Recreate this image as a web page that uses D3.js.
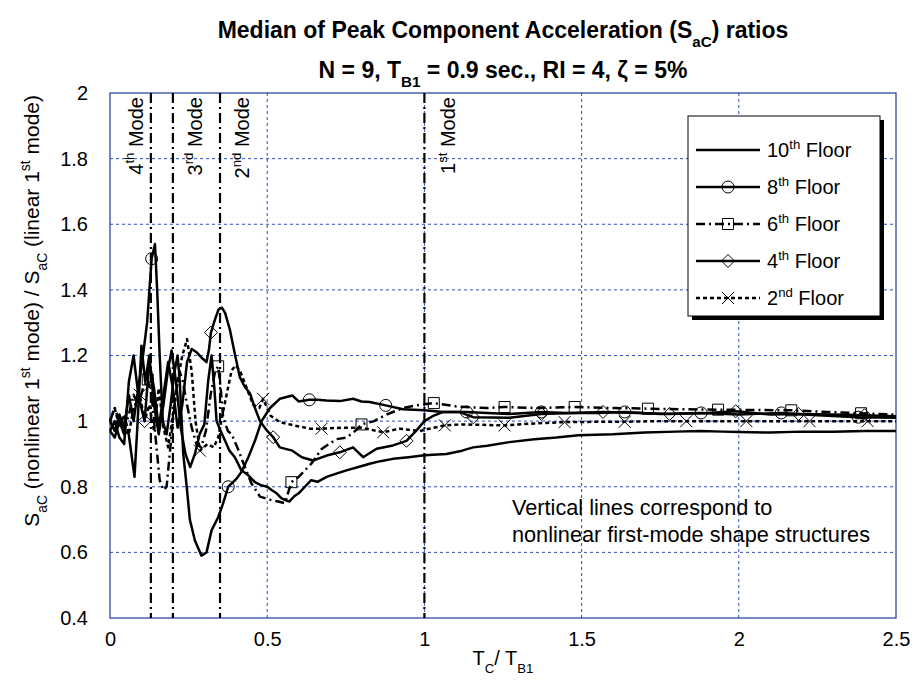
<!DOCTYPE html>
<html>
<head>
<meta charset="utf-8">
<script src="https://cdn.jsdelivr.net/npm/d3@7"></script>
<style>
  body { margin: 0; background: #fff; }
  text { font-family: "Liberation Sans", Arial, sans-serif; fill: #000; }
</style>
</head>
<body>
<div id="chart"></div>
<script>
// Tick values
const xTicks = [0, 0.5, 1, 1.5, 2, 2.5];
const yTicks = [0.4, 0.6, 0.8, 1, 1.2, 1.4, 1.6, 1.8, 2];

// Modal period ratios (vertical lines)
const modePeriods = [0.13, 0.2, 0.35, 1.0];
const modeNumbers = ["4", "3", "2", "1"];
const modeSuffixes = ["th", "rd", "nd", "st"];

// Floors (legend order)
const floorNumbers = ["10", "8", "6", "4", "2"];
const floorSuffixes = ["th", "th", "th", "th", "nd"];

// Series values [Tc/TB1, ratio]
const floor10 = [[0,0.97],[0.015,0.95],[0.03,1.0],[0.045,0.96],[0.058,0.97],[0.068,0.9],[0.078,0.83],[0.088,1.0],[0.1,1.23],[0.112,1.12],[0.125,1.2],[0.14,1.05],[0.155,0.96],[0.17,1.05],[0.185,1.16],[0.196,1.215],[0.21,1.12],[0.225,0.98],[0.24,0.9],[0.255,0.86],[0.27,0.9],[0.285,0.96],[0.3,0.99],[0.312,1.12],[0.323,1.2],[0.332,1.1],[0.339,1.0],[0.352,0.97],[0.366,0.94],[0.38,0.91],[0.397,0.89],[0.418,0.85],[0.44,0.835],[0.461,0.814],[0.48,0.805],[0.5,0.8],[0.514,0.79],[0.53,0.78],[0.545,0.765],[0.556,0.76],[0.57,0.755],[0.585,0.77],[0.6,0.78],[0.62,0.8],[0.64,0.82],[0.66,0.815],[0.689,0.83],[0.72,0.84],[0.752,0.85],[0.79,0.86],[0.826,0.87],[0.86,0.878],[0.9,0.885],[0.95,0.89],[1.0,0.896],[1.07,0.9],[1.12,0.91],[1.155,0.92],[1.2,0.925],[1.27,0.936],[1.35,0.945],[1.42,0.95],[1.49,0.957],[1.6,0.96],[1.7,0.965],[1.8,0.968],[1.875,0.97],[1.95,0.968],[2.0,0.967],[2.1,0.965],[2.2,0.968],[2.3,0.968],[2.4,0.97],[2.5,0.97]];
const floor8 = [[0,1.0],[0.015,0.97],[0.03,1.02],[0.045,0.98],[0.06,1.08],[0.075,1.0],[0.09,1.1],[0.105,1.2],[0.118,1.3],[0.1325,1.495],[0.143,1.54],[0.15,1.4],[0.158,1.2],[0.168,1.0],[0.18,0.96],[0.193,1.05],[0.205,1.15],[0.215,1.2],[0.222,1.12],[0.228,1.0],[0.233,0.9],[0.244,0.8],[0.254,0.7],[0.27,0.636],[0.291,0.59],[0.307,0.6],[0.323,0.667],[0.344,0.707],[0.36,0.75],[0.376,0.8],[0.402,0.824],[0.418,0.845],[0.44,0.89],[0.461,0.94],[0.482,1.0],[0.509,1.04],[0.54,1.068],[0.58,1.078],[0.6,1.06],[0.634,1.065],[0.66,1.065],[0.689,1.063],[0.731,1.061],[0.773,1.068],[0.8,1.06],[0.826,1.058],[0.877,1.048],[0.932,1.036],[1.0,1.033],[1.06,1.028],[1.134,1.028],[1.2,1.025],[1.27,1.022],[1.372,1.028],[1.45,1.025],[1.55,1.025],[1.637,1.028],[1.75,1.022],[1.88,1.025],[2.0,1.02],[2.135,1.025],[2.25,1.018],[2.38,1.012],[2.5,1.01]];
const floor6 = [[0,1.0],[0.015,1.04],[0.03,1.0],[0.045,0.97],[0.06,1.02],[0.075,1.08],[0.09,1.05],[0.105,1.1],[0.12,1.127],[0.132,1.08],[0.145,0.95],[0.158,0.82],[0.17,0.79],[0.18,0.8],[0.19,0.9],[0.2,1.0],[0.212,1.1],[0.222,1.15],[0.232,1.12],[0.245,1.05],[0.26,0.98],[0.275,0.93],[0.29,0.92],[0.305,0.97],[0.32,1.08],[0.334,1.15],[0.344,1.167],[0.352,1.1],[0.36,1.01],[0.375,0.97],[0.387,0.96],[0.405,0.92],[0.425,0.87],[0.45,0.81],[0.477,0.77],[0.51,0.76],[0.535,0.755],[0.556,0.75],[0.577,0.814],[0.6,0.83],[0.62,0.85],[0.64,0.87],[0.673,0.915],[0.72,0.945],[0.752,0.95],[0.78,0.97],[0.8,0.99],[0.84,1.0],[0.879,1.02],[0.932,1.04],[0.975,1.048],[1.03,1.055],[1.1,1.045],[1.15,1.042],[1.2,1.04],[1.255,1.043],[1.35,1.04],[1.478,1.043],[1.6,1.04],[1.711,1.038],[1.82,1.036],[1.934,1.035],[2.05,1.034],[2.167,1.033],[2.28,1.028],[2.389,1.024],[2.5,1.02]];
const floor4 = [[0,0.97],[0.015,1.0],[0.03,0.95],[0.045,0.93],[0.06,1.12],[0.075,1.2],[0.09,1.08],[0.11,1.0],[0.125,1.18],[0.14,1.1],[0.155,0.98],[0.17,1.08],[0.185,1.18],[0.2,1.1],[0.215,0.98],[0.23,1.05],[0.245,1.18],[0.26,1.22],[0.275,1.21],[0.295,1.19],[0.307,1.18],[0.315,1.22],[0.321,1.27],[0.334,1.31],[0.345,1.34],[0.356,1.346],[0.366,1.33],[0.381,1.28],[0.397,1.205],[0.413,1.134],[0.429,1.104],[0.445,1.085],[0.461,1.04],[0.477,1.0],[0.5,0.97],[0.519,0.951],[0.54,0.92],[0.58,0.91],[0.61,0.89],[0.646,0.88],[0.689,0.895],[0.731,0.905],[0.773,0.92],[0.805,0.89],[0.848,0.916],[0.9,0.926],[0.943,0.94],[0.975,0.972],[1.0,1.0],[1.03,1.017],[1.06,1.028],[1.11,1.028],[1.155,1.012],[1.27,1.01],[1.372,1.022],[1.47,1.025],[1.568,1.028],[1.68,1.025],[1.78,1.022],[1.9,1.025],[1.99,1.03],[2.1,1.02],[2.19,1.022],[2.3,1.02],[2.4,1.018],[2.5,1.015]];
const floor2 = [[0,1.0],[0.015,1.04],[0.03,0.98],[0.045,1.02],[0.06,0.96],[0.075,1.04],[0.095,1.08],[0.11,1.0],[0.125,1.05],[0.14,0.97],[0.155,1.1],[0.17,0.98],[0.185,0.92],[0.2,1.02],[0.215,1.12],[0.23,1.2],[0.245,1.25],[0.26,1.15],[0.272,1.0],[0.286,0.91],[0.31,0.93],[0.33,0.92],[0.344,0.95],[0.36,1.03],[0.375,1.1],[0.387,1.155],[0.4,1.17],[0.415,1.15],[0.435,1.1],[0.455,1.05],[0.475,1.04],[0.487,1.068],[0.51,1.017],[0.54,0.997],[0.58,0.988],[0.636,0.977],[0.673,0.977],[0.742,0.98],[0.8,0.98],[0.869,0.966],[0.92,0.977],[0.985,0.97],[1.03,0.98],[1.065,0.987],[1.12,0.99],[1.255,0.987],[1.35,0.993],[1.446,0.997],[1.55,0.998],[1.637,0.998],[1.75,1.0],[1.833,1.0],[1.93,1.0],[2.024,1.0],[2.12,1.0],[2.225,1.0],[2.32,1.0],[2.41,1.0],[2.5,1.0]];

// x positions of the plotted markers
const floor8Marks = [0.1325, 0.376, 0.634, 0.877, 1.134, 1.372, 1.637, 1.88, 2.135, 2.38];
const floor6Marks = [0.12, 0.344, 0.577, 0.8, 1.03, 1.255, 1.478, 1.711, 1.934, 2.167, 2.389];
const floor4Marks = [0.11, 0.321, 0.519, 0.731, 0.943, 1.155, 1.372, 1.568, 1.78, 1.99, 2.19, 2.4];
const floor2Marks = [0.095, 0.286, 0.487, 0.673, 0.869, 1.065, 1.255, 1.446, 1.637, 1.833, 2.024, 2.225, 2.41];

// Set dimensions
const W = 914, H = 681;
const plot = {left: 110, top: 93, right: 896, bottom: 618};

const svg = d3.select("#chart").append("svg")
  .attr("width", W).attr("height", H)
  .attr("viewBox", `0 0 ${W} ${H}`);

const x = d3.scaleLinear().domain([0, 2.5]).range([plot.left, plot.right]);
const y = d3.scaleLinear().domain([0.4, 2]).range([plot.bottom, plot.top]);

// text with sub/superscripts
function rich(sel, parts, fs) {
  let shift = 0;
  parts.forEach(([s, kind]) => {
    const target = kind === "sub" ? 0.38 * fs : kind === "sup" ? -0.42 * fs : 0;
    sel.append("tspan")
      .attr("dy", target - shift)
      .style("font-size", kind ? (0.66 * fs) + "px" : fs + "px")
      .text(s);
    shift = target;
  });
  return sel;
}

const gridColor = "#2f4fb8";

// Grid lines
svg.append("g")
  .selectAll("line")
  .data(yTicks.slice(1, -1))
  .join("line")
  .attr("x1", plot.left).attr("x2", plot.right)
  .attr("y1", d => y(d)).attr("y2", d => y(d))
  .attr("stroke", gridColor).attr("stroke-width", 1)
  .attr("stroke-dasharray", "3,3");

svg.append("g")
  .selectAll("line")
  .data(xTicks.slice(1, -1))
  .join("line")
  .attr("y1", plot.top).attr("y2", plot.bottom)
  .attr("x1", d => x(d)).attr("x2", d => x(d))
  .attr("stroke", gridColor).attr("stroke-width", 1)
  .attr("stroke-dasharray", "3,3");

// Axes (labels only)
svg.append("g")
  .attr("transform", `translate(0,${plot.bottom})`)
  .call(d3.axisBottom(x).tickValues(xTicks).tickSize(0).tickPadding(14).tickFormat(d => String(d)))
  .call(g => g.select(".domain").remove())
  .selectAll("text")
  .style("font-size", "20px")
  .style("font-family", "Liberation Sans, Arial, sans-serif");

svg.append("g")
  .attr("transform", `translate(${plot.left},0)`)
  .call(d3.axisLeft(y).tickValues(yTicks).tickSize(0).tickPadding(22).tickFormat(d => String(d)))
  .call(g => g.select(".domain").remove())
  .selectAll("text")
  .style("font-size", "20px")
  .style("font-family", "Liberation Sans, Arial, sans-serif");

// Plot border
svg.append("rect")
  .attr("x", plot.left).attr("y", plot.top)
  .attr("width", plot.right - plot.left).attr("height", plot.bottom - plot.top)
  .attr("fill", "none").attr("stroke", "#1d3a9c").attr("stroke-width", 1.2);

// Mode lines
svg.append("g")
  .selectAll("line")
  .data(modePeriods)
  .join("line")
  .attr("x1", d => x(d)).attr("x2", d => x(d))
  .attr("y1", plot.top).attr("y2", plot.bottom)
  .attr("stroke", "#000").attr("stroke-width", 2.2)
  .attr("stroke-dasharray", "10,4,2,4");

// Mode labels: 4th sits left of its line, others right
const modeLabelOffset = [-8, 29, 29, 31];
modePeriods.forEach((p, i) => {
  const t = svg.append("text")
    .attr("transform", `translate(${x(p) + modeLabelOffset[i]},${plot.top + 4}) rotate(-90)`)
    .attr("text-anchor", "end");
  rich(t, [[modeNumbers[i], ""], [modeSuffixes[i], "sup"], [" Mode", ""]], 20);
});

// Series
const series = [
  {data: floor10, marks: [], dash: null, marker: null},
  {data: floor8, marks: floor8Marks, dash: null, marker: "circle"},
  {data: floor6, marks: floor6Marks, dash: "9,4,2,4", marker: "square"},
  {data: floor4, marks: floor4Marks, dash: null, marker: "diamond"},
  {data: floor2, marks: floor2Marks, dash: "4,3", marker: "x"},
];

function markerPath(type) {
  if (type === "circle") return d3.arc()({innerRadius: 0, outerRadius: 6, startAngle: 0, endAngle: 2 * Math.PI});
  if (type === "square") return "M-5.5,-5.5H5.5V5.5H-5.5Z";
  if (type === "diamond") return "M0,-6.5L6.5,0L0,6.5L-6.5,0Z";
  if (type === "x") return "M-6,-6L6,6M-6,6L6,-6";
  return "";
}

const line = d3.line().x(d => x(d[0])).y(d => y(d[1]));

series.forEach(s => {
  svg.append("path")
    .datum(s.data)
    .attr("fill", "none")
    .attr("stroke", "#000")
    .attr("stroke-width", 2.5)
    .attr("stroke-linejoin", "round")
    .attr("stroke-dasharray", s.dash)
    .attr("d", line);

  const pts = s.data.filter(d => s.marks.includes(d[0]));
  svg.append("g")
    .selectAll("path")
    .data(pts)
    .join("path")
    .attr("transform", d => `translate(${x(d[0])},${y(d[1])})`)
    .attr("d", markerPath(s.marker))
    .attr("fill", "none")
    .attr("stroke", "#000")
    .attr("stroke-width", 1);
});

// Legend
const lg = {x: 688, y: 116, w: 192, h: 200, row: 37, first: 34};
svg.append("rect")
  .attr("x", lg.x + 4).attr("y", lg.y + 4)
  .attr("width", lg.w).attr("height", lg.h)
  .attr("fill", "#000");
svg.append("rect")
  .attr("x", lg.x).attr("y", lg.y)
  .attr("width", lg.w).attr("height", lg.h)
  .attr("fill", "#fff").attr("stroke", "#000").attr("stroke-width", 1);

series.forEach((s, i) => {
  const ry = lg.y + lg.first + i * lg.row;
  svg.append("line")
    .attr("x1", lg.x + 8).attr("x2", lg.x + 72)
    .attr("y1", ry).attr("y2", ry)
    .attr("stroke", "#000").attr("stroke-width", 2.5)
    .attr("stroke-dasharray", s.dash);
  if (s.marker) {
    svg.append("path")
      .attr("transform", `translate(${lg.x + 40},${ry})`)
      .attr("d", markerPath(s.marker))
      .attr("fill", "none")
      .attr("stroke", "#000").attr("stroke-width", 1);
  }
  const t = svg.append("text")
    .attr("x", lg.x + 79).attr("y", ry + 7);
  rich(t, [[floorNumbers[i], ""], [floorSuffixes[i], "sup"], [" Floor", ""]], 20);
});

// Titles
const t1 = svg.append("text").attr("x", 503).attr("y", 38)
  .attr("text-anchor", "middle").style("font-weight", "bold");
rich(t1, [["Median of Peak Component Acceleration (S", ""], ["aC", "sub"], [") ratios", ""]], 23);

const t2 = svg.append("text").attr("x", 503).attr("y", 78)
  .attr("text-anchor", "middle").style("font-weight", "bold");
rich(t2, [["N = 9, T", ""], ["B1", "sub"], [" = 0.9 sec., RI = 4, \u03B6 = 5%", ""]], 23);

// Axis titles
const xt = svg.append("text").attr("x", 503).attr("y", 665).attr("text-anchor", "middle");
rich(xt, [["T", ""], ["C", "sub"], ["/  T", ""], ["B1", "sub"]], 20);

const yt = svg.append("text")
  .attr("transform", `translate(39,${plot.top + 2}) rotate(-90)`)
  .attr("text-anchor", "end");
rich(yt, [["S", ""], ["aC", "sub"], [" (nonlinear 1", ""], ["st", "sup"], [" mode) / S", ""], ["aC", "sub"], [" (linear 1", ""], ["st", "sup"], [" mode)", ""]], 21);

// Note
const note = svg.append("text").attr("x", 512).attr("y", 515).style("font-size", "21.7px");
note.append("tspan").attr("x", 512).text("Vertical lines correspond to");
note.append("tspan").attr("x", 512).attr("dy", 27).text("nonlinear first-mode shape structures");
</script>
</body>
</html>
